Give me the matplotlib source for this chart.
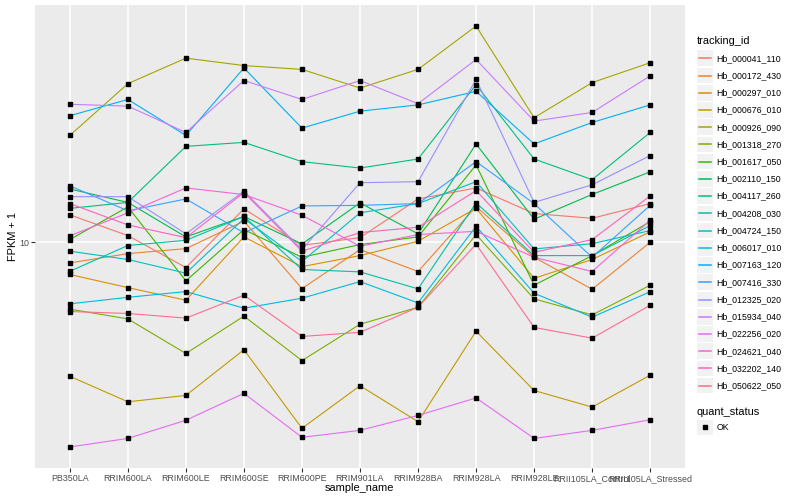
import numpy as np
import matplotlib
matplotlib.use("Agg")
import matplotlib.pyplot as plt
from matplotlib.patches import Rectangle
from matplotlib.lines import Line2D
from matplotlib.ticker import NullLocator, FixedLocator

plt.rcParams['font.family'] = ['Liberation Sans', 'DejaVu Sans']

samples = ["PB350LA", "RRIM600LA", "RRIM600LE", "RRIM600SE", "RRIM600PE",
           "RRIM901LA", "RRIM928BA", "RRIM928LA", "RRIM928LE",
           "RRII105LA_Control", "RRII105LA_Stressed"]

# FPKM + 1 values per gene, in sample order
Hb_000041_110 = [11.98, 10.45, 8.47, 12.46, 9.80, 10.31, 13.3, 14.3, 12.08, 11.71, 12.9]
Hb_000172_430 = [8.73, 9.28, 9.59, 11.49, 7.37, 9.53, 8.25, 12.65, 9.06, 7.34, 10.0]
Hb_000297_010 = [8.09, 7.42, 6.83, 10.36, 8.52, 9.16, 10.07, 12.51, 7.89, 8.93, 10.71]
Hb_000676_010 = [4.14, 3.50, 3.65, 4.93, 2.94, 3.89, 3.07, 5.57, 3.77, 3.38, 4.17]
Hb_000926_090 = [20.2, 28.4, 33.6, 32.0, 31.2, 27.6, 31.2, 41.5, 22.7, 28.6, 32.6]
Hb_001318_270 = [6.44, 6.04, 4.81, 6.15, 4.59, 5.83, 6.52, 10.52, 6.89, 6.20, 7.54]
Hb_001617_050 = [10.18, 12.62, 7.76, 10.87, 9.06, 9.85, 10.36, 16.64, 7.54, 9.16, 11.46]
Hb_002110_150 = [14.2, 13.0, 10.36, 11.85, 9.89, 12.96, 10.57, 19.1, 11.64, 13.7, 15.9]
Hb_004117_260 = [12.5, 13.0, 18.8, 19.3, 17.0, 16.3, 17.3, 28.2, 17.3, 15.1, 20.6]
Hb_004208_030 = [8.26, 9.79, 10.13, 11.85, 8.36, 8.23, 7.36, 12.96, 9.16, 9.16, 11.16]
Hb_004724_150 = [9.43, 8.93, 8.16, 11.69, 8.81, 12.14, 12.9, 14.9, 9.57, 9.91, 10.8]
Hb_006017_010 = [6.67, 6.96, 7.23, 6.48, 6.92, 7.72, 6.71, 11.11, 7.15, 6.11, 7.22]
Hb_007163_120 = [23.0, 25.6, 20.2, 31.5, 21.2, 23.7, 24.7, 27.0, 19.1, 22.0, 24.7]
Hb_007416_330 = [14.5, 12.3, 13.3, 10.64, 12.7, 12.75, 12.9, 17.0, 12.9, 9.06, 12.75]
Hb_012325_020 = [13.5, 13.5, 10.57, 14.0, 9.53, 14.8, 14.9, 29.2, 13.0, 14.6, 17.7]
Hb_015934_040 = [24.8, 24.5, 20.6, 29.0, 25.6, 29.0, 24.9, 33.3, 22.2, 23.5, 29.9]
Hb_022256_020 = [2.60, 2.75, 3.10, 3.70, 2.77, 2.90, 3.20, 3.59, 2.75, 2.90, 3.11]
Hb_024621_040 = [10.43, 12.14, 14.3, 13.69, 11.95, 9.74, 10.52, 10.75, 9.06, 8.25, 11.56]
Hb_032202_140 = [12.9, 11.21, 10.31, 13.87, 9.43, 10.66, 11.04, 14.05, 9.36, 10.18, 13.57]
Hb_050622_050 = [6.34, 6.26, 6.07, 7.06, 5.38, 5.53, 6.52, 9.87, 5.71, 5.32, 6.61]

tracking_ids = ["Hb_000041_110", "Hb_000172_430", "Hb_000297_010", "Hb_000676_010",
                "Hb_000926_090", "Hb_001318_270", "Hb_001617_050", "Hb_002110_150",
                "Hb_004117_260", "Hb_004208_030", "Hb_004724_150", "Hb_006017_010",
                "Hb_007163_120", "Hb_007416_330", "Hb_012325_020", "Hb_015934_040",
                "Hb_022256_020", "Hb_024621_040", "Hb_032202_140", "Hb_050622_050"]
series = [Hb_000041_110, Hb_000172_430, Hb_000297_010, Hb_000676_010,
          Hb_000926_090, Hb_001318_270, Hb_001617_050, Hb_002110_150,
          Hb_004117_260, Hb_004208_030, Hb_004724_150, Hb_006017_010,
          Hb_007163_120, Hb_007416_330, Hb_012325_020, Hb_015934_040,
          Hb_022256_020, Hb_024621_040, Hb_032202_140, Hb_050622_050]
colors = ["#F8766D", "#EA8331", "#D89000", "#C09B00", "#A3A500", "#7CAE00",
          "#39B600", "#00BB4E", "#00BF7D", "#00C1A3", "#00BFC4", "#00BAE0",
          "#00B0F6", "#35A2FF", "#9590FF", "#C77CFF", "#E76BF3", "#FA62DB",
          "#FF62BC", "#FF6C91"]
y_breaks = [10]
quant_status = ["OK"]

W, H = 800, 500
fig = plt.figure(figsize=(W / 100, H / 100), dpi=100)
L, R, T, B = 35, 685, 5, 468
ax = fig.add_axes([L / W, 1 - B / H, (R - L) / W, (B - T) / H])
ax.set_facecolor("#EBEBEB")
for s in ax.spines.values():
    s.set_visible(False)

x = np.arange(len(samples))
for vals, c in zip(series, colors):
    ax.plot(x, vals, color=c, lw=0.8, zorder=2, solid_capstyle='butt')
for vals in series:
    ax.plot(x, vals, ls='none', marker='s', ms=2.8, color='black', zorder=3)

ax.set_yscale('log')
allv = np.concatenate([np.asarray(v) for v in series])
lo, hi = np.log10(allv.min()), np.log10(allv.max())
pad = 0.05 * (hi - lo)
ax.set_ylim(10 ** (lo - pad), 10 ** (hi + pad))
ax.set_xlim(-0.6, len(samples) - 1 + 0.6)
ax.yaxis.set_major_locator(FixedLocator(y_breaks))
ax.yaxis.set_minor_locator(NullLocator())
ax.set_yticklabels([str(b) for b in y_breaks])
ax.set_xticks(x)
ax.set_xticklabels(samples)
ax.grid(True, which='major', color='white', lw=1.1)
ax.set_axisbelow(True)
ax.tick_params(axis='both', length=2.6, width=0.8, color='#333333',
               labelcolor='#4D4D4D', labelsize=6.4, pad=1.6)

def fx(px):
    return px / W

def fy(py):
    return 1 - py / H

fig.text(fx(359), fy(488), "sample_name", ha='center', va='center', fontsize=7.9, color='black')
fig.text(fx(13), fy(236.5), "FPKM + 1", ha='center', va='center', rotation=90, fontsize=7.9, color='black')

# legend: tracking_id
fig.text(fx(696.5), fy(40.5), "tracking_id", ha='left', va='center', fontsize=7.9)
pitch = 17.23
for i, (name, c) in enumerate(zip(tracking_ids, colors)):
    yc = 58.3 + i * pitch
    fig.patches.append(Rectangle((fx(697.2), fy(yc + 7.8)), 15.6 / W, 15.6 / H,
                                 transform=fig.transFigure, facecolor='#F2F2F2',
                                 edgecolor='none'))
    fig.lines.append(Line2D([fx(698.8), fx(711.2)], [fy(yc), fy(yc)], color=c, lw=1.1,
                            transform=fig.transFigure))
    fig.text(fx(716.5), fy(yc), name, ha='left', va='center', fontsize=6.3)

# legend: quant_status
fig.text(fx(696.5), fy(411.7), "quant_status", ha='left', va='center', fontsize=7.9)
for j, q in enumerate(quant_status):
    yc = 427.3 + j * pitch
    fig.patches.append(Rectangle((fx(697.2), fy(yc + 7.8)), 15.6 / W, 15.6 / H,
                                 transform=fig.transFigure, facecolor='#F2F2F2',
                                 edgecolor='none'))
    fig.lines.append(Line2D([fx(705)], [fy(yc)], marker='s', ms=2.8, color='black',
                            ls='none', transform=fig.transFigure))
    fig.text(fx(716.5), fy(yc), q, ha='left', va='center', fontsize=6.3)

fig.savefig("out.png", dpi=100, facecolor='white')
